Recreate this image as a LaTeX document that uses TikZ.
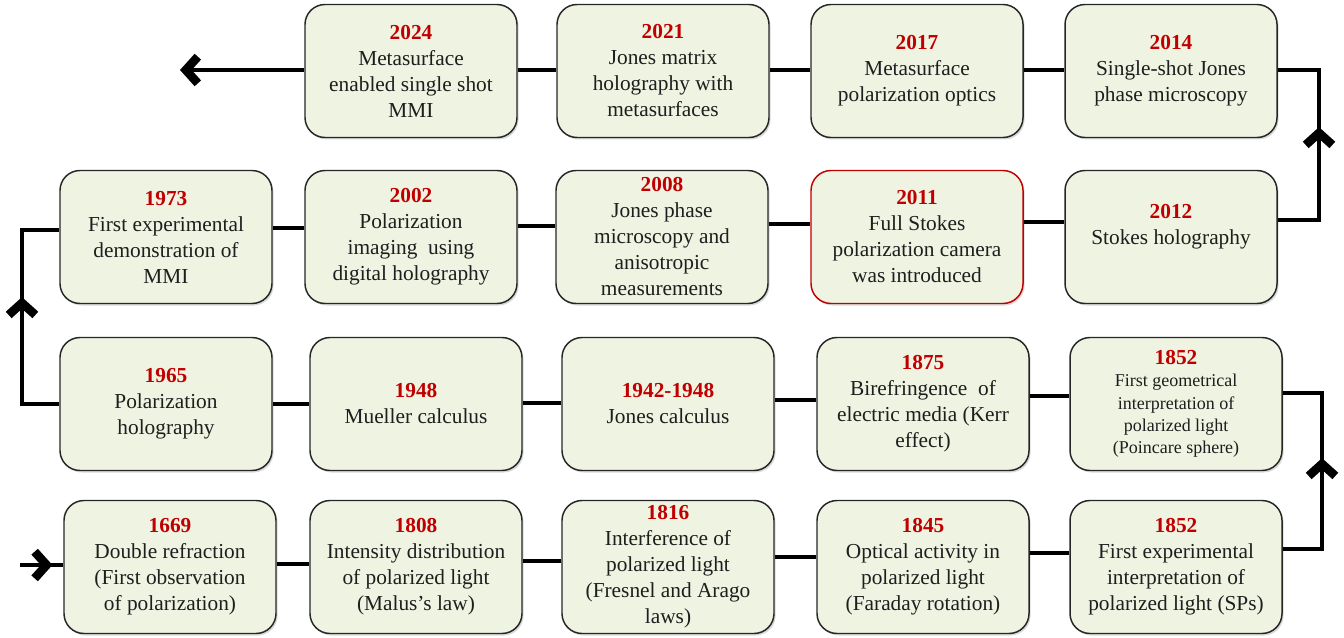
\documentclass[tikz,border=0pt]{standalone}
\usepackage{fontspec}
\setmainfont{Liberation Serif}
\usepackage{tikz}
\usetikzlibrary{arrows.meta,shadows,decorations.markings}
\definecolor{yearred}{RGB}{192,0,0}
\definecolor{boxfill}{RGB}{238,243,226}
\definecolor{bodytext}{RGB}{30,30,30}
\newcommand{\yearlab}[1]{{\fontsize{16}{19.5}\selectfont\bfseries\color{yearred}#1}\\}
\tikzset{
  chev/.tip={Straight Barb[length=9pt,width=20pt,line width=6.5pt]},
  evbox/.style={draw=black!85, line width=1.1pt, fill=boxfill, rounded corners=15pt,
    minimum width=159pt, minimum height=99.75pt, inner sep=0pt, align=center,
    text=bodytext, font=\fontsize{16}{19.5}\selectfont,
    drop shadow={shadow xshift=1.2pt, shadow yshift=-1.5pt, opacity=0.3}},
  hotbox/.style={evbox, draw=yearred},
  link/.style={line width=3.6pt, line join=miter},
  midarrow/.style={postaction={decorate},
    decoration={markings, mark=at position #1 with {\arrow{chev}}}}
}

\begin{document}
\begin{tikzpicture}[x=0.75pt, y=-0.75pt]
\useasboundingbox (0,0) rectangle (1344,638);
%%% The boxes of the first row (latest events)
\node[evbox] (n2024) at (411,71) {\yearlab{2024}Metasurface\\enabled single shot\\MMI};
\node[evbox] (n2021) at (663,71) {\yearlab{2021}Jones matrix\\holography with\\metasurfaces};
\node[evbox] (n2017) at (917,71) {\yearlab{2017}Metasurface\\polarization optics};
\node[evbox] (n2014) at (1171,71) {\yearlab{2014}Single-shot Jones\\phase microscopy};
%%% The boxes of the second row
\node[evbox] (n1973) at (166,237) {\yearlab{1973}First experimental\\demonstration of\\MMI};
\node[evbox] (n2002) at (411,237) {\yearlab{2002}Polarization\\imaging\ \ using\\digital holography};
\node[evbox] (n2008) at (662,237) {\yearlab{2008}Jones phase\\microscopy and\\anisotropic\\measurements};
\node[hotbox] (n2011) at (917,237) {\yearlab{2011}Full Stokes\\polarization camera\\was introduced};
\node[evbox] (n2012) at (1171,237) {\yearlab{2012}Stokes holography\\\mbox{}};
%%% The boxes of the third row
\node[evbox] (n1965) at (166,404) {\yearlab{1965}Polarization\\holography};
\node[evbox] (n1948) at (416,404) {\yearlab{1948}Mueller calculus};
\node[evbox] (n1942) at (668,404) {\yearlab{1942-1948}Jones calculus};
\node[evbox] (n1875) at (923,404) {\yearlab{1875}Birefringence\ \ of\\electric media (Kerr\\effect)};
\node[evbox, font=\fontsize{13.5}{16.8}\selectfont] (n1852g) at (1176,404)
  {\yearlab{1852}First geometrical\\interpretation of\\polarized light\\(Poincare sphere)};
%%% The boxes of the fourth row (earliest events)
\node[evbox] (n1669) at (170,567) {\yearlab{1669}Double refraction\\(First observation\\of polarization)};
\node[evbox] (n1808) at (416,567) {\yearlab{1808}Intensity distribution\\of polarized light\\(Malus’s law)};
\node[evbox] (n1816) at (668,567) {\yearlab{1816}Interference of\\polarized light\\(Fresnel and Arago\\laws)};
\node[evbox] (n1845) at (923,567) {\yearlab{1845}Optical activity in\\polarized light\\(Faraday rotation)};
\node[evbox] (n1852e) at (1176,567) {\yearlab{1852}First experimental\\interpretation of\\polarized light (SPs)};
%%% Turning points of the time line
\coordinate (in) at (20,565);
\coordinate (q1) at (1322,549);
\coordinate (q2) at (1322,393);
\coordinate (l1) at (22,404);
\coordinate (l2) at (22,230);
\coordinate (r1) at (1319,220);
\coordinate (r2) at (1319,70);
\coordinate (out) at (180,70);
%%%%%% Row 4, left to right
\draw[link, midarrow=0.75] (in) -- (n1669.west |- in);
\draw[link] (n1669.east |- 0,564) -- (n1808.west |- 0,564);
\draw[link] (n1808.east |- 0,561) -- (n1816.west |- 0,561);
\draw[link] (n1816.east |- 0,557) -- (n1845.west |- 0,557);
\draw[link] (n1845.east |- 0,553) -- (n1852e.west |- 0,553);
\draw[link, midarrow=0.555] (n1852e.east |- q1) -- (q1) -- (q2) -- (n1852g.east |- q2);
%%%%%% Row 3, right to left
\draw[link] (n1852g.west |- 0,396) -- (n1875.east |- 0,396);
\draw[link] (n1875.west |- 0,400) -- (n1942.east |- 0,400);
\draw[link] (n1942.west |- 0,403) -- (n1948.east |- 0,403);
\draw[link] (n1948.west |- 0,404) -- (n1965.east |- 0,404);
\draw[link, midarrow=0.58] (n1965.west |- l1) -- (l1) -- (l2) -- (n1973.west |- l2);
%%%%%% Row 2, left to right
\draw[link] (n1973.east |- 0,228) -- (n2002.west |- 0,228);
\draw[link] (n2002.east |- 0,226) -- (n2008.west |- 0,226);
\draw[link] (n2008.east |- 0,224) -- (n2011.west |- 0,224);
\draw[link] (n2011.east |- 0,222) -- (n2012.west |- 0,222);
\draw[link, midarrow=0.577] (n2012.east |- r1) -- (r1) -- (r2) -- (n2014.east |- r2);
%%%%%% Row 1, right to left and out
\draw[link] (n2014.west |- r2) -- (n2017.east |- r2);
\draw[link] (n2017.west |- r2) -- (n2021.east |- r2);
\draw[link] (n2021.west |- r2) -- (n2024.east |- r2);
\draw[link, -{chev}] (n2024.west |- out) -- (out);
\end{tikzpicture}
\end{document}
